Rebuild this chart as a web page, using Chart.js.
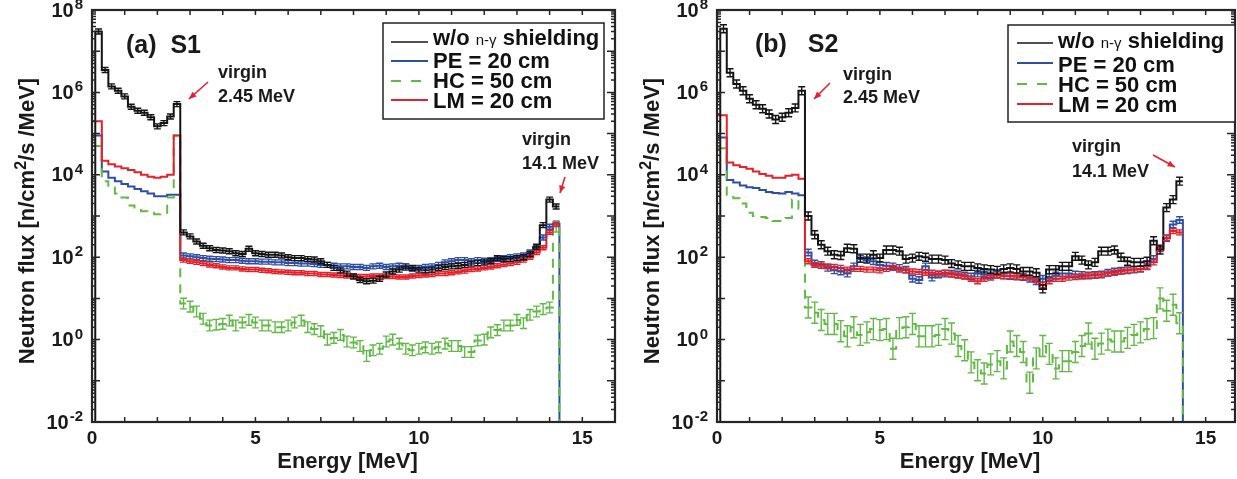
<!DOCTYPE html>
<html>
<head>
<meta charset="utf-8">
<script src="https://cdn.jsdelivr.net/npm/chart.js@4.4.0/dist/chart.umd.min.js"></script>
<style>
  body { margin: 0; background: #fff; width: 1237px; height: 479px; overflow: hidden; position: relative; }
  canvas { position: absolute; top: 0; }
  #c1 { left: 0; }
  #c2 { left: 620px; }
</style>
</head>
<body>
<canvas id="c1" width="620" height="479"></canvas>
<canvas id="c2" width="617" height="479"></canvas>
<script>
// energy bin edges [MeV]
const binEdges = [0.1, 0.3, 0.5, 0.7, 0.9, 1.1, 1.3, 1.5, 1.7, 1.9, 2.1, 2.3, 2.5, 2.7,
  2.9, 3.1, 3.3, 3.5, 3.7, 3.9, 4.1, 4.3, 4.5, 4.7, 4.9, 5.1, 5.3, 5.5, 5.7, 5.9,
  6.1, 6.3, 6.5, 6.7, 6.9, 7.1, 7.3, 7.5, 7.7, 7.9, 8.1, 8.3, 8.5, 8.7, 8.9, 9.1,
  9.3, 9.5, 9.7, 9.9, 10.1, 10.3, 10.5, 10.7, 10.9, 11.1, 11.3, 11.5, 11.7, 11.9,
  12.1, 12.3, 12.5, 12.7, 12.9, 13.1, 13.3, 13.5, 13.7, 13.9, 14.1, 14.3];

const seriesNames = ['w/o n-γ shielding', 'PE = 20 cm', 'HC = 50 cm', 'LM = 20 cm'];
const seriesColors = ['#141414', '#2f4fa5', '#62b947', '#e3222b'];
const xTickLabels = [0, 5, 10, 15];
const yTickExps = [-2, 0, 2, 4, 6, 8];

// S1 flux per bin [n/cm2/s/MeV]
const s1Black = [3e7, 3.5e6, 1.4e6, 1.1e6, 8e5, 4.5e5, 3.6e5, 3.2e5, 2.5e5, 1.5e5, 1.8e5, 2.6e5, 5.2e5,
  400, 320, 240, 190, 165, 150, 145, 140, 125, 120, 160, 125, 120, 115, 115, 110, 100, 95, 95, 90,
  88, 80, 65, 55, 48, 40, 34, 28, 26, 27, 30, 38, 45, 50, 60, 55, 50, 48, 50, 55,
  58, 60, 62, 65, 70, 72, 75, 80, 95, 90, 90, 95, 100, 120, 180, 600, 2500, 1700];
const s1Blue = [9e4, 1.2e4, 8.5e3, 7e3, 6e3, 5.2e3, 4.5e3, 4e3, 3.5e3, 3e3, 3e3, 3.3e3, 3.3e3,
  110, 105, 100, 95, 92, 90, 88, 85, 85, 82, 80, 80, 78, 78, 75, 75, 72, 72, 70, 70,
  68, 65, 65, 62, 60, 60, 58, 58, 55, 60, 62, 58, 60, 62, 55, 52, 55, 58, 60, 65,
  75, 80, 85, 85, 80, 85, 82, 85, 90, 95, 100, 105, 110, 130, 170, 300, 550, 650];
const s1Green = [5e4, 7e3, 5e3, 3.5e3, 2.8e3, 1.8e3, 1.6e3, 1.3e3, 1.2e3, 1.1e3, 1.2e3, 2.8e3, 9e4,
  7.5, 6.3, 4.8, 3.2, 2.2, 2.3, 2.4, 2.9, 2.2, 2.6, 3.0, 2.6, 2.2, 2.2, 2.0, 2.0, 2.2, 2.6, 2.9, 2.0,
  1.8, 1.6, 1.0, 1.1, 1.3, 0.9, 0.85, 0.7, 0.4, 0.55, 0.6, 0.9, 1.0, 0.8, 0.6, 0.55, 0.6, 0.65, 0.6, 0.65,
  0.8, 0.7, 0.7, 0.5, 0.5, 0.95, 1.0, 1.5, 1.7, 2.2, 2.2, 3.0, 2.5, 4.0, 4.8, 5.5, 6.0, 550];
const s1Red = [2e5, 2.2e4, 1.8e4, 1.6e4, 1.45e4, 1.3e4, 1.15e4, 1.0e4, 9e3, 8.5e3, 9e3, 1.0e4, 9e4,
  85, 80, 75, 70, 65, 62, 58, 55, 55, 52, 50, 50, 48, 47, 45, 44, 43, 42, 42, 40,
  40, 38, 38, 37, 36, 35, 35, 34, 34, 35, 35, 34, 34, 33, 33, 35, 36, 37, 38, 40,
  40, 42, 44, 46, 50, 52, 55, 58, 62, 66, 70, 75, 85, 100, 130, 170, 400, 620];

// S2 flux per bin
const s2Black = [3.5e7, 3e6, 1.6e6, 1.1e6, 7e5, 5e5, 4e5, 3e5, 2.2e5, 2.5e5, 3.2e5, 4.2e5, 1.1e6,
  1000, 350, 200, 140, 115, 110, 165, 160, 95, 95, 115, 95, 150, 150, 140, 90, 95, 105, 100, 90,
  90, 85, 70, 65, 60, 60, 55, 52, 50, 48, 52, 55, 52, 45, 45, 42, 17, 50, 50, 60,
  60, 105, 85, 65, 75, 140, 140, 150, 100, 80, 75, 75, 80, 250, 150, 1600, 2500, 7000];
const s2Blue = [8e4, 7.5e3, 6.5e3, 5.5e3, 5e3, 4.8e3, 4.3e3, 3.8e3, 3.6e3, 3.5e3, 3.8e3, 3.5e3, 3.2e3,
  130, 70, 65, 55, 48, 45, 40, 60, 90, 85, 80, 65, 62, 60, 55, 50, 30, 28, 60, 32,
  38, 40, 40, 38, 36, 34, 40, 38, 36, 38, 36, 35, 34, 33, 30, 26, 30, 33, 36, 40,
  40, 38, 37, 36, 37, 38, 42, 45, 47, 48, 50, 52, 60, 90, 165, 290, 620, 800];
const s2Green = [4.4e4, 3.3e3, 2.7e3, 2e3, 1.2e3, 1e3, 950, 900, 760, 760, 900, 2500, 1500,
  6, 4.5, 3.0, 2.4, 2.4, 1.6, 1.2, 2.0, 1.3, 1.5, 1.8, 1.7, 1.8, 0.6, 1.9, 2.0, 2.4, 1.2, 1.2, 1.2,
  1.3, 1.8, 1.4, 0.7, 0.55, 0.28, 0.18, 0.15, 0.25, 0.3, 0.2, 0.9, 0.7, 0.5, 0.09, 0.35, 0.7, 0.45, 0.2, 0.3,
  0.3, 0.5, 0.7, 1.4, 0.6, 0.8, 1.0, 0.9, 0.9, 1.1, 1.3, 1.5, 1.8, 1.9, 10, 5, 7, 2.5];
const s2Red = [2.8e5, 2e4, 1.7e4, 1.55e4, 1.4e4, 1.2e4, 1.05e4, 9.5e3, 8.5e3, 8.5e3, 9.5e3, 1e4, 8e3,
  80, 65, 62, 60, 58, 55, 50, 52, 52, 50, 50, 48, 52, 55, 50, 48, 45, 44, 42, 42,
  40, 42, 38, 36, 34, 30, 26, 30, 32, 36, 35, 35, 34, 33, 32, 28, 21, 26, 30, 30,
  32, 33, 34, 36, 36, 38, 40, 42, 45, 48, 50, 52, 60, 75, 165, 290, 430, 400];

// multiplicative error bar size per series (black, PE, HC, LM)
const s1ErrFactor = [1.15, 1.15, 1.35, 1.12];
const s2ErrFactor = [1.25, 1.2, 1.8, 1.15];
const firstErrBin = 13; // shielded spectra show error bars above 2.7 MeV only

const FONT = '"Liberation Sans", Arial, Helvetica, sans-serif';
const drawOrder = [0, 3, 2, 1]; // black on top, PE at the bottom

function stepPoints(vals, fromAxis, dropEnd) {
  // shielded runs start right at the axis, the bare run starts at its first bin
  const pts = fromAxis ? [{x: 0, y: vals[0]}] : [{x: binEdges[0], y: 1e-4}, {x: binEdges[0], y: vals[0]}];
  vals.forEach((v, i) => { if (i > 0) pts.push({x: binEdges[i], y: v}); });
  const xe = binEdges[vals.length];
  pts.push({x: xe, y: vals[vals.length - 1]});
  if (dropEnd) pts.push({x: xe, y: 1e-4});
  return pts;
}

function arrow(ctx, x1, y1, x2, y2) {
  ctx.beginPath(); ctx.moveTo(x1, y1); ctx.lineTo(x2, y2); ctx.stroke();
  const ang = Math.atan2(y2 - y1, x2 - x1);
  ctx.beginPath();
  ctx.moveTo(x2, y2);
  ctx.lineTo(x2 - 8 * Math.cos(ang - 0.4), y2 - 8 * Math.sin(ang - 0.4));
  ctx.lineTo(x2 - 8 * Math.cos(ang + 0.4), y2 - 8 * Math.sin(ang + 0.4));
  ctx.closePath(); ctx.fill();
}

function makeDecor(p) {
  return {
    id: 'decor',
    afterDatasetsDraw(chart) {
      // error bars at bin centres
      const {ctx, chartArea: a, scales: {x, y}} = chart;
      ctx.save();
      ctx.beginPath(); ctx.rect(a.left, a.top, a.right - a.left, a.bottom - a.top); ctx.clip();
      ctx.lineWidth = 1.4;
      const sets = chart.data.datasets.slice().sort((d1, d2) => d2.order - d1.order);
      sets.forEach(ds => {
        ctx.strokeStyle = ds.borderColor;
        ctx.beginPath();
        ds.values.forEach((v, i) => {
          if (i < ds.errFrom) return;
          const px = x.getPixelForValue((binEdges[i] + binEdges[i + 1]) / 2);
          const hi = y.getPixelForValue(v * ds.errFactor);
          const lo = y.getPixelForValue(v / ds.errFactor);
          ctx.moveTo(px, lo); ctx.lineTo(px, hi);
          ctx.moveTo(px - 3.5, lo); ctx.lineTo(px + 3.5, lo);
          ctx.moveTo(px - 3.5, hi); ctx.lineTo(px + 3.5, hi);
        });
        ctx.stroke();
      });
      ctx.restore();
    },
    afterDraw(chart) {
      const {ctx, chartArea: a, scales: {x, y}} = chart;
      ctx.save();
      // inward ticks, matlab style
      ctx.strokeStyle = '#262626';
      ctx.lineWidth = 1.5;
      ctx.beginPath();
      for (let v = 0; v <= p.xMax; v++) {
        const px = x.getPixelForValue(v);
        ctx.moveTo(px, a.bottom); ctx.lineTo(px, a.bottom - 5);
        ctx.moveTo(px, a.top); ctx.lineTo(px, a.top + 5);
      }
      for (let e = -2; e < 8; e++) {
        for (let m = 1; m < 10; m++) {
          const py = y.getPixelForValue(m * Math.pow(10, e));
          const len = m === 1 ? 8 : 4;
          ctx.moveTo(a.left, py); ctx.lineTo(a.left + len, py);
          ctx.moveTo(a.right, py); ctx.lineTo(a.right - len, py);
        }
      }
      ctx.stroke();
      ctx.lineWidth = 2.2;
      ctx.strokeRect(a.left, a.top, a.right - a.left, a.bottom - a.top);

      // tick labels
      ctx.fillStyle = '#1a1a1a';
      ctx.font = 'bold 19px ' + FONT;
      ctx.textAlign = 'center';
      ctx.textBaseline = 'alphabetic';
      xTickLabels.forEach(v => ctx.fillText(String(v), x.getPixelForValue(v), a.bottom + 22));
      yTickExps.forEach(e => {
        const py = y.getPixelForValue(Math.pow(10, e));
        ctx.font = 'bold 15px ' + FONT;
        ctx.textAlign = 'right';
        ctx.textBaseline = 'alphabetic';
        const ex = String(e);
        const w = ctx.measureText(ex).width;
        ctx.fillText(ex, a.left - 9, py - 1);
        ctx.font = 'bold 20px ' + FONT;
        ctx.textBaseline = 'middle';
        ctx.fillText('10', a.left - 10 - w, py + 1);
      });

      // axis titles
      ctx.font = 'bold 22px ' + FONT;
      ctx.textAlign = 'center';
      ctx.textBaseline = 'alphabetic';
      ctx.fillText('Energy [MeV]', (a.left + a.right) / 2 - 6, a.bottom + 46);

      ctx.save();
      ctx.translate(a.left - 58, (a.top + a.bottom) / 2 + 5);
      ctx.rotate(-Math.PI / 2);
      const parts = [['Neutron flux [n/cm', 'bold 22px ', 0], ['2', 'bold 16px ', -8], ['/s /MeV]', 'bold 22px ', 0]];
      let total = 0;
      parts.forEach(pt => { ctx.font = pt[1] + FONT; total += ctx.measureText(pt[0]).width; });
      let cx = -total / 2;
      ctx.textAlign = 'left';
      parts.forEach(pt => {
        ctx.font = pt[1] + FONT;
        ctx.fillText(pt[0], cx, pt[2]);
        cx += ctx.measureText(pt[0]).width;
      });
      ctx.restore();

      // panel tag
      ctx.font = 'bold 25px ' + FONT;
      ctx.textAlign = 'left';
      ctx.fillText(p.tag, p.tagPos[0], p.tagPos[1]);

      // legend box
      const L = p.legend;
      ctx.fillStyle = '#fff';
      ctx.fillRect(L.box[0], L.box[1], L.box[2], L.box[3]);
      ctx.strokeStyle = '#222';
      ctx.lineWidth = 1.5;
      ctx.strokeRect(L.box[0], L.box[1], L.box[2], L.box[3]);
      seriesNames.forEach((name, k) => {
        ctx.strokeStyle = seriesColors[k];
        ctx.lineWidth = k === 0 ? 1.5 : 2.2;
        ctx.setLineDash(k === 2 ? [10, 10] : []);
        ctx.beginPath();
        ctx.moveTo(L.sampleX[0], L.sampleY[k]);
        ctx.lineTo(L.sampleX[1], L.sampleY[k]);
        ctx.stroke();
        ctx.setLineDash([]);
        ctx.fillStyle = '#111';
        if (k === 0) {
          let tx = L.textX;
          [['w/o ', 'bold 22px '], ['n-γ', '15px '], [' shielding', 'bold 22px ']].forEach(pt => {
            ctx.font = pt[1] + FONT;
            ctx.fillText(pt[0], tx, L.baselines[k]);
            tx += ctx.measureText(pt[0]).width;
          });
        } else {
          ctx.font = 'bold 22px ' + FONT;
          ctx.fillText(name, L.textX, L.baselines[k]);
        }
      });

      // "virgin" annotations
      p.notes.forEach(n => {
        ctx.fillStyle = '#1a1a1a';
        ctx.font = 'bold 18px ' + FONT;
        ctx.fillText(n.lines[0], n.x, n.base[0]);
        ctx.fillText(n.lines[1], n.x, n.base[1]);
        ctx.strokeStyle = '#e3222b';
        ctx.fillStyle = '#e3222b';
        ctx.lineWidth = 1.6;
        arrow(ctx, n.arrow[0], n.arrow[1], n.arrow[2], n.arrow[3]);
      });
      ctx.restore();
    }
  };
}

function buildChart(p) {
  const datasets = p.series.map((vals, k) => ({
    label: seriesNames[k],
    data: stepPoints(vals, k !== 0, k === 1 || k === 2),
    values: vals,
    errFactor: p.errFactor[k],
    errFrom: k === 0 ? 0 : firstErrBin,
    borderColor: seriesColors[k],
    borderWidth: 2,
    borderDash: k === 2 ? [9, 7] : [],
    stepped: 'before',
    pointRadius: 0,
    fill: false,
    order: drawOrder[k]
  }));
  return new Chart(document.getElementById(p.canvas), {
    type: 'line',
    data: {datasets: datasets},
    options: {
      responsive: false,
      animation: false,
      devicePixelRatio: 1,
      events: [],
      layout: {padding: p.pad},
      plugins: {legend: {display: false}, tooltip: {enabled: false}},
      scales: {
        x: {type: 'linear', min: 0, max: p.xMax, display: false},
        y: {type: 'logarithmic', min: 1e-2, max: 1e8, display: false}
      }
    },
    plugins: [makeDecor(p)]
  });
}

buildChart({
  canvas: 'c1', xMax: 16,
  pad: {left: 92, right: 5, top: 10, bottom: 57},
  series: [s1Black, s1Blue, s1Green, s1Red], errFactor: s1ErrFactor,
  tag: '(a)  S1', tagPos: [126, 53],
  legend: {box: [383, 23, 221, 96], sampleX: [391, 428], textX: 433,
           baselines: [45, 68, 88, 108], sampleY: [42, 61, 81, 100]},
  notes: [
    {x: 218, lines: ['virgin', '2.45 MeV'], base: [78, 102], arrow: [208, 82, 189, 99]},
    {x: 522, lines: ['virgin', '14.1 MeV'], base: [145, 169], arrow: [565, 177, 560, 193]}
  ]
});

buildChart({
  canvas: 'c2', xMax: 15.9,
  pad: {left: 97, right: 2, top: 10, bottom: 57},
  series: [s2Black, s2Blue, s2Green, s2Red], errFactor: s2ErrFactor,
  tag: '(b)   S2', tagPos: [135, 52],
  legend: {box: [388, 25, 227, 97], sampleX: [397, 433], textX: 438,
           baselines: [48, 72, 92, 112], sampleY: [43, 63, 84, 104]},
  notes: [
    {x: 223, lines: ['virgin', '2.45 MeV'], base: [80, 103], arrow: [210, 83, 194, 99]},
    {x: 452, lines: ['virgin', '14.1 MeV'], base: [152, 177], arrow: [533, 155, 555, 167]}
  ]
});
</script>
</body>
</html>
